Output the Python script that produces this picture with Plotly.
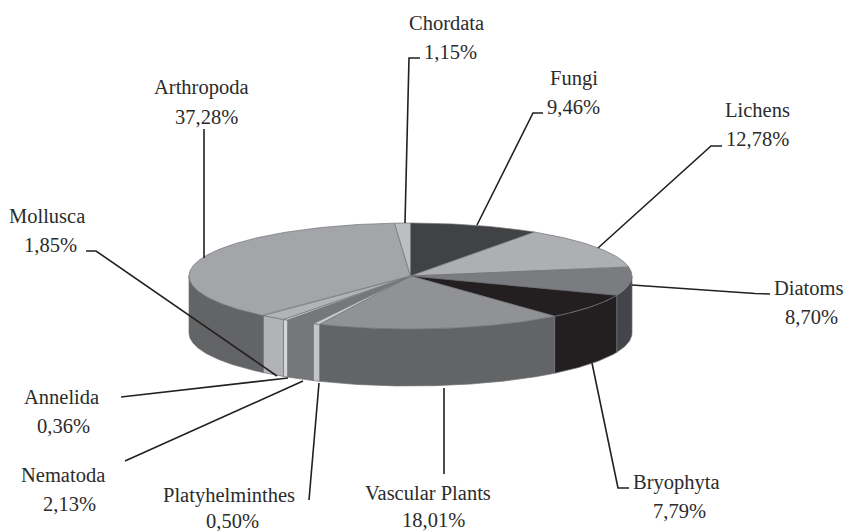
import numpy as np
import plotly.graph_objects as go

categories = ["Fungi", "Lichens", "Diatoms", "Bryophyta", "Vascular Plants", "Platyhelminthes",
              "Nematoda", "Annelida", "Mollusca", "Arthropoda", "Chordata"]
values = [9.46, 12.78, 8.70, 7.79, 18.01, 0.50, 2.13, 0.36, 1.85, 37.28, 1.15]
top_colors = ["#414244", "#aeafb2", "#7b7c80", "#231f20", "#919296", "#c8cacc",
              "#76777b", "#c8cacc", "#b1b3b6", "#a4a5a8", "#bcbec0"]
side_colors = ["#414244", "#aeafb2", "#434548", "#231f20", "#636466", "#c2c4c6",
               "#76777b", "#d4d5d7", "#b1b3b6", "#636466", "#bcbec0"]

# page layout, in pixels
W, H = 846, 531
CX, CY, RX, RY, DEPTH = 410.5, 276, 221.5, 53, 57
FONT = dict(family="Liberation Serif", size=20.5, color="#2b2b2b")

# name line centre, value line centre
label_pos = {
    "Fungi": ((574, 78), (573, 107)),
    "Lichens": ((757, 110), (757, 139)),
    "Diatoms": ((808, 288), (811, 317)),
    "Bryophyta": ((676, 482), (679, 511)),
    "Vascular Plants": ((428, 493), (433, 520)),
    "Platyhelminthes": ((229, 495), (232, 521)),
    "Nematoda": ((63, 475), (69, 504)),
    "Annelida": ((61, 397), (63, 426)),
    "Mollusca": ((47, 216), (50, 245)),
    "Arthropoda": ((201, 87), (206, 117)),
    "Chordata": ((446, 23), (450, 52)),
}
leaders = {
    "Fungi": [(543, 113), (533, 113), (477, 225)],
    "Lichens": [(722, 146), (711, 146), (598, 248)],
    "Diatoms": [(770, 294), (755, 293.5), (632, 285)],
    "Bryophyta": [(629, 488), (618, 488), (592, 363)],
    "Vascular Plants": [(444, 388), (444, 474)],
    "Platyhelminthes": [(309, 500), (319, 383)],
    "Nematoda": [(125, 461), (303, 381)],
    "Annelida": [(121, 397), (288, 378)],
    "Mollusca": [(86, 251), (96, 251), (277, 376)],
    "Arthropoda": [(204, 129), (204, 258)],
    "Chordata": [(420, 58), (409, 58), (405, 223)],
}

total = sum(values)
edges = np.concatenate([[0], np.cumsum(values)]) / total * 2 * np.pi


def rim(a0, a1, dy=0.0):
    n = max(2, int((a1 - a0) * 120))
    t = np.linspace(a0, a1, n)
    return CX + RX * np.sin(t), CY - RY * np.cos(t) + dy


fig = go.Figure()
LINE = dict(color="#707175", width=0.7)

# wall: only the part of each slice that faces the viewer
for i, name in enumerate(categories):
    a0, a1 = max(edges[i], np.pi / 2), min(edges[i + 1], 3 * np.pi / 2)
    if a1 <= a0:
        continue
    x1, y1 = rim(a0, a1)
    x2, y2 = rim(a0, a1, DEPTH)
    fig.add_trace(go.Scatter(x=np.concatenate([x1, x2[::-1], x1[:1]]),
                             y=np.concatenate([y1, y2[::-1], y1[:1]]),
                             mode="lines", fill="toself", fillcolor=side_colors[i],
                             line=LINE, hoverinfo="skip", showlegend=False))

# top face
for i, name in enumerate(categories):
    x, y = rim(edges[i], edges[i + 1])
    fig.add_trace(go.Scatter(x=np.concatenate([[CX], x, [CX]]),
                             y=np.concatenate([[CY], y, [CY]]),
                             mode="lines", fill="toself", fillcolor=top_colors[i],
                             line=LINE, name=name, text=f"{name}: {values[i]}%",
                             hoverinfo="text", showlegend=False))

shapes = []
for pts in leaders.values():
    path = "M " + " L ".join(f"{x},{y}" for x, y in pts)
    shapes.append(dict(type="path", path=path, xref="x", yref="y", layer="above",
                       line=dict(color="#231f20", width=1.6)))

annotations = []
for name, v in zip(categories, values):
    (nx, ny), (vx, vy) = label_pos[name]
    annotations.append(dict(x=nx, y=ny, text=name, showarrow=False, font=FONT,
                            xanchor="center", yanchor="middle"))
    annotations.append(dict(x=vx, y=vy, text=f"{v:.2f}%".replace(".", ","), showarrow=False,
                            font=FONT, xanchor="center", yanchor="middle"))

fig.update_layout(
    width=W, height=H, margin=dict(l=0, r=0, t=0, b=0),
    paper_bgcolor="white", plot_bgcolor="white",
    xaxis=dict(range=[0, W], visible=False, fixedrange=True),
    yaxis=dict(range=[H, 0], visible=False, fixedrange=True),
    shapes=shapes, annotations=annotations,
)
fig.write_html("out.html", config={"displayModeBar": False},
               post_script="document.body.style.margin='0';document.body.style.overflow='hidden';")
